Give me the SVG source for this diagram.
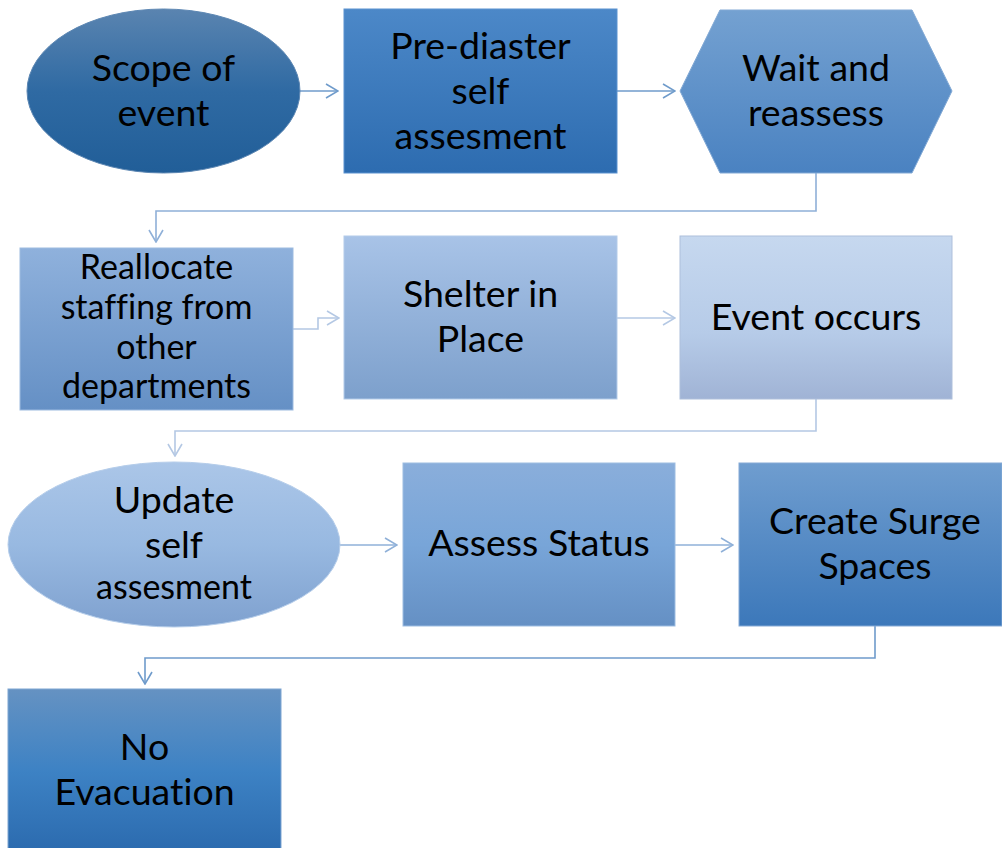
<svg xmlns="http://www.w3.org/2000/svg" width="1002" height="848" viewBox="0 0 1002 848">
  <style>
    text { font-family: Lato, "Open Sans", "Liberation Sans", sans-serif; fill: #000; text-anchor: middle; font-variant-ligatures: none; }
    .big { font-size: 37.5px; }
    .small { font-size: 34px; }
    .conn { fill: none; stroke-width: 1.6; }
    .c-dark { stroke: #6f9bcb; marker-end: url(#arrDark); }
    .c-mid { stroke: #8fb0d8; marker-end: url(#arrMid); }
    .c-light { stroke: #b4c8e4; marker-end: url(#arrLight); }
    .edge { stroke-width: 1; }
  </style>
  <defs>
    <linearGradient id="gScope" x1="0" y1="0" x2="0" y2="1">
      <stop offset="0" stop-color="#5a84b0"/>
      <stop offset="0.5" stop-color="#2f6aa3"/>
      <stop offset="1" stop-color="#215e98"/>
    </linearGradient>
    <linearGradient id="gPre" x1="0" y1="0" x2="0" y2="1">
      <stop offset="0" stop-color="#4c88c8"/>
      <stop offset="1" stop-color="#2d6cb0"/>
    </linearGradient>
    <linearGradient id="gWait" x1="0" y1="0" x2="0" y2="1">
      <stop offset="0" stop-color="#74a1d1"/>
      <stop offset="1" stop-color="#4a82c1"/>
    </linearGradient>
    <linearGradient id="gRealloc" x1="0" y1="0" x2="0" y2="1">
      <stop offset="0" stop-color="#8fb1dc"/>
      <stop offset="1" stop-color="#6590c5"/>
    </linearGradient>
    <linearGradient id="gShelter" x1="0" y1="0" x2="0" y2="1">
      <stop offset="0" stop-color="#a8c3e7"/>
      <stop offset="1" stop-color="#7da0cc"/>
    </linearGradient>
    <linearGradient id="gEvent" x1="0" y1="0" x2="0" y2="1">
      <stop offset="0" stop-color="#c6d8ef"/>
      <stop offset="0.6" stop-color="#b6cbe8"/>
      <stop offset="1" stop-color="#a0b3d5"/>
    </linearGradient>
    <linearGradient id="gUpdate" x1="0" y1="0" x2="0" y2="1">
      <stop offset="0" stop-color="#abc6e8"/>
      <stop offset="0.5" stop-color="#98b9e1"/>
      <stop offset="1" stop-color="#7fa1cf"/>
    </linearGradient>
    <linearGradient id="gAssess" x1="0" y1="0" x2="0" y2="1">
      <stop offset="0" stop-color="#8aaedb"/>
      <stop offset="0.5" stop-color="#78a5d8"/>
      <stop offset="1" stop-color="#6590c4"/>
    </linearGradient>
    <linearGradient id="gSurge" x1="0" y1="0" x2="0" y2="1">
      <stop offset="0" stop-color="#6f9dcf"/>
      <stop offset="1" stop-color="#3c78ba"/>
    </linearGradient>
    <linearGradient id="gNoEvac" x1="0" y1="0" x2="0" y2="1">
      <stop offset="0" stop-color="#6592c2"/>
      <stop offset="0.5" stop-color="#3d82c4"/>
      <stop offset="1" stop-color="#2b6aae"/>
    </linearGradient>
    <marker id="arrDark" viewBox="0 0 14 16" refX="13" refY="8" markerWidth="14" markerHeight="16" markerUnits="userSpaceOnUse" orient="auto">
      <path d="M1,1 L13,8 L1,15" fill="none" stroke="#6f9bcb" stroke-width="1.6"/>
    </marker>
    <marker id="arrMid" viewBox="0 0 14 16" refX="13" refY="8" markerWidth="14" markerHeight="16" markerUnits="userSpaceOnUse" orient="auto">
      <path d="M1,1 L13,8 L1,15" fill="none" stroke="#8fb0d8" stroke-width="1.6"/>
    </marker>
    <marker id="arrLight" viewBox="0 0 14 16" refX="13" refY="8" markerWidth="14" markerHeight="16" markerUnits="userSpaceOnUse" orient="auto">
      <path d="M1,1 L13,8 L1,15" fill="none" stroke="#b4c8e4" stroke-width="1.6"/>
    </marker>
  </defs>

  <!-- connectors -->
  <g id="connectors">
    <path class="conn c-dark" d="M300,91 H338"/>
    <path class="conn c-dark" d="M617,91 H675"/>
    <path class="conn c-mid" d="M816,173 V211 H156 V242"/>
    <path class="conn c-light" d="M293,329 H318 V318 H339"/>
    <path class="conn c-light" d="M617,318 H675"/>
    <path class="conn c-light" d="M816,399 V431 H175 V456"/>
    <path class="conn c-mid" d="M340,545 H397"/>
    <path class="conn c-mid" d="M675,545 H733"/>
    <path class="conn c-dark" d="M875,626 V658 H145 V684"/>
  </g>

  <!-- row 1 -->
  <g id="scope-of-event">
    <ellipse cx="163.5" cy="91" rx="136.5" ry="82" fill="url(#gScope)" class="edge" stroke="#5d87b3"/>
    <text class="big" x="163.5" y="81">Scope of</text>
    <text class="big" x="163.5" y="126">event</text>
  </g>
  <g id="pre-diaster">
    <rect x="344" y="9" width="273" height="164" fill="url(#gPre)" class="edge" stroke="#5b92d0"/>
    <text class="big" x="480.5" y="59">Pre-diaster</text>
    <text class="big" x="480.5" y="104">self</text>
    <text class="big" x="480.5" y="149">assesment</text>
  </g>
  <g id="wait-and-reassess">
    <polygon points="720,10 912,10 952,91 912,173 720,173 680,91" fill="url(#gWait)" class="edge" stroke="#82a9d5"/>
    <text class="big" x="816" y="81">Wait and</text>
    <text class="big" x="816" y="126">reassess</text>
  </g>

  <!-- row 2 -->
  <g id="reallocate-staffing">
    <rect x="20" y="248" width="273" height="162" fill="url(#gRealloc)" class="edge" stroke="#9dbbe0"/>
    <text class="small" x="156.5" y="279">Reallocate</text>
    <text class="small" x="156.5" y="319">staffing from</text>
    <text class="small" x="156.5" y="359">other</text>
    <text class="small" x="156.5" y="398">departments</text>
  </g>
  <g id="shelter-in-place">
    <rect x="344" y="236" width="273" height="163" fill="url(#gShelter)" class="edge" stroke="#b3cbe9"/>
    <text class="big" x="480.5" y="307">Shelter in</text>
    <text class="big" x="480.5" y="352">Place</text>
  </g>
  <g id="event-occurs">
    <rect x="680" y="236" width="272" height="163" fill="url(#gEvent)" class="edge" stroke="#aebfdb"/>
    <text class="big" x="816" y="330">Event occurs</text>
  </g>

  <!-- row 3 -->
  <g id="update-self-assesment">
    <ellipse cx="174" cy="544.5" rx="166" ry="82.5" fill="url(#gUpdate)" class="edge" stroke="#b5cdea"/>
    <text class="big" x="174" y="513">Update</text>
    <text class="big" x="174" y="558">self</text>
    <text class="small" x="174" y="599">assesment</text>
  </g>
  <g id="assess-status">
    <rect x="403" y="463" width="272" height="163" fill="url(#gAssess)" class="edge" stroke="#9dbde2"/>
    <text class="big" x="539" y="556">Assess Status</text>
  </g>
  <g id="create-surge-spaces">
    <rect x="739" y="463" width="263" height="163" fill="url(#gSurge)" class="edge" stroke="#85aad6"/>
    <text class="big" x="875" y="534">Create Surge</text>
    <text class="big" x="875" y="579">Spaces</text>
  </g>

  <!-- row 4 -->
  <g id="no-evacuation">
    <rect x="8" y="689" width="273" height="165" fill="url(#gNoEvac)" class="edge" stroke="#7ea5d2"/>
    <text class="big" x="144.5" y="760">No</text>
    <text class="big" x="144.5" y="805">Evacuation</text>
  </g>
</svg>
